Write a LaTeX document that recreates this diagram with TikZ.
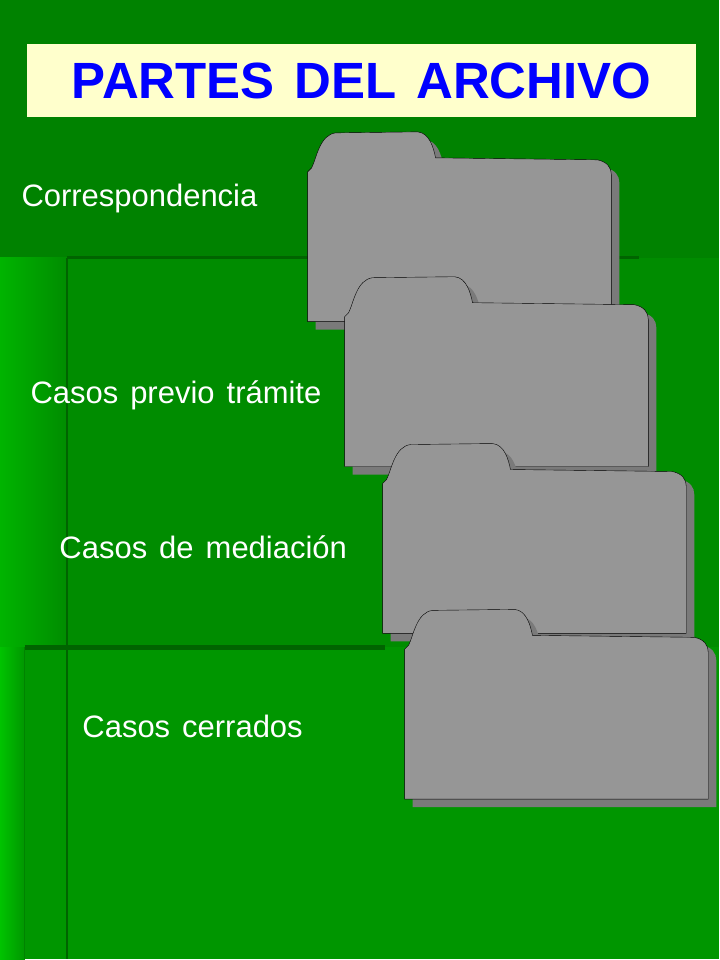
\documentclass[tikz,border=0pt]{standalone}
\usepackage{fontspec}
\setmainfont{Liberation Sans}[WordSpace=1.4]
\definecolor{bgdark}{HTML}{008200}
\definecolor{bgmid}{HTML}{008C00}
\definecolor{bglow}{HTML}{009600}
\definecolor{bgedge}{HTML}{00B400}
\definecolor{bgline}{HTML}{006400}
\definecolor{foldergray}{HTML}{969696}
\definecolor{foldershade}{HTML}{7A7A7A}
\definecolor{titlebg}{HTML}{FFFFCC}
\definecolor{titleblue}{HTML}{0000FF}

% folder drawn from the top left corner of its body
\newcommand{\folderpath}{(0,162) -- (0,12) -- (4,8) .. controls (9,-2) and (12,-25) .. (28,-27)
  -- (110,-28) .. controls (122,-27) and (126,-12) .. (128,-2) -- (290,0)
  .. controls (300,2) and (304,8) .. (304,15) -- (304,162) -- cycle}
\newcommand{\folder}[2]{%
  \fill[foldershade, shift={(#1+8,#2+8)}] \folderpath;
  \draw[fill=foldergray, shift={(#1,#2)}] \folderpath;}

\begin{document}
\begin{tikzpicture}[x=1pt, y=-1pt,
  partlabel/.style={anchor=west, text=white, font=\fontsize{31}{36}\selectfont}]

% Background
\fill[bgdark] (0,0) rectangle (720,960);
\fill[bgmid] (67,258) rectangle (720,960);
\fill[bglow] (25,648) rectangle (720,960);
\shade[left color=bgedge, right color=bgmid] (0,258) rectangle (67,648);
\shade[left color=bgedge!80!green, right color=bglow] (0,648) rectangle (25,960);
\draw[bgline, line width=2] (67,258) -- (67,960);
\draw[bgline, line width=3] (67,258) -- (640,258);
\draw[bgline, line width=5] (25,648) -- (385,648);
\draw[bgline!80!green, line width=1] (25,648) -- (25,960);

% Title
\node (title) [fill=titlebg, minimum width=670, minimum height=73, text=titleblue,
  font=\fontsize{51}{58}\selectfont\bfseries] at (362,81) {PARTES DEL ARCHIVO};

% Folders
\folder{308}{160}
\folder{345}{305}
\folder{383}{472}
\folder{405}{638}

% Labels
\node (corr) [partlabel] at (18,199) {Correspondencia};
\node (previo) [partlabel] at (27,396) {Casos previo trámite};
\node (mediacion) [partlabel] at (56,548) {Casos de mediación};
\node (cerrados) [partlabel] at (79,727) {Casos cerrados};

\end{tikzpicture}
\end{document}
